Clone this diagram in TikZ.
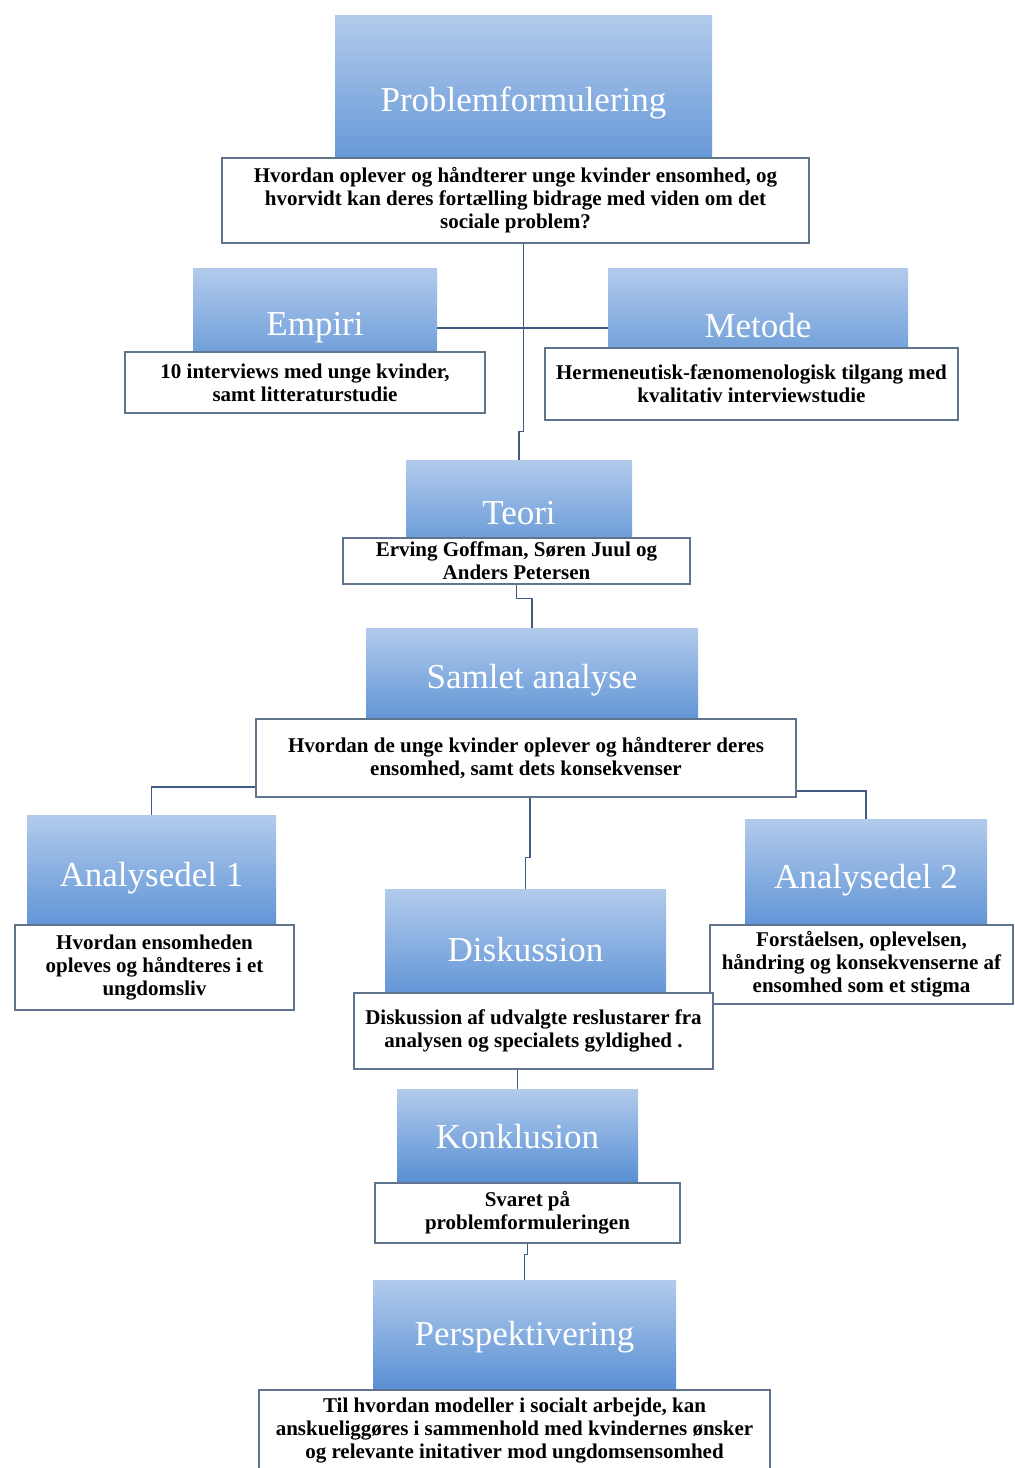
\documentclass[tikz,border=0pt]{standalone}
\usepackage{fontspec}
\setmainfont{Liberation Serif}
\usetikzlibrary{calc}
\definecolor{bluetop}{RGB}{178,203,236}
\definecolor{bluebot}{RGB}{86,141,211}
\definecolor{linec}{RGB}{62,92,130}
\definecolor{edgec}{RGB}{96,116,142}
\tikzset{
  bluebox/.style 2 args={rectangle, top color=bluetop, bottom color=bluebot,
    draw=none, text=white, inner sep=0pt,
    minimum width=#1*0.5pt, minimum height=#2*0.5pt,
    font=\fontsize{17.5}{20}\selectfont},
  textbox/.style 2 args={rectangle, fill=white, draw=edgec, line width=0.8pt,
    text=black, inner sep=0pt, align=center,
    minimum width=#1*0.5pt, minimum height=#2*0.5pt,
    font=\bfseries\fontsize{10.5}{11.5}\selectfont},
  conn/.style={draw=linec, line width=0.8pt}
}
\begin{document}
\begin{tikzpicture}[x=0.5pt,y=-0.5pt]
\useasboundingbox (0,0) rectangle (1014,1468);
\fill[white] (0,0) rectangle (1014,1468);

% Problemformulering
\node[bluebox={377}{176}] (pf) at (523.5,103) {Problemformulering};
\node[textbox={587}{85}] (pfT) at (515.5,200.5) {Hvordan oplever og håndterer unge kvinder ensomhed, og\\hvorvidt kan deres fortælling bidrage med viden om det\\sociale problem?};

% Empiri
\node[bluebox={244}{120}] (em) at (315,328) {\raisebox{3pt}{Empiri}};
\node[textbox={360}{61}] (emT) at (305,382.5) {10 interviews med unge kvinder,\\samt litteraturstudie};

% Metode
\node[bluebox={300}{120}] (me) at (758,328) {\raisebox{3pt}{Metode}};
\node[textbox={413}{72}] (meT) at (751.5,384) {Hermeneutisk-fænomenologisk tilgang med\\kvalitativ interviewstudie};

% Teori
\node[bluebox={226}{106}] (te) at (519,513) {Teori};
\node[textbox={347}{46}] (teT) at (516.5,561) {Erving Goffman, Søren Juul og\\Anders Petersen};

% Samlet analyse
\node[bluebox={332}{104}] (sa) at (532,680) {Samlet analyse};
\node[textbox={540}{78}] (saT) at (526,758) {Hvordan de unge kvinder oplever og håndterer deres\\ensomhed, samt dets konsekvenser};

% Analysedel 1
\node[bluebox={249}{126}] (a1) at (151.5,878) {Analysedel 1};
\node[textbox={279}{85}] (a1T) at (154.5,967.5) {Hvordan ensomheden\\opleves og håndteres i et\\ungdomsliv};

% Analysedel 2
\node[bluebox={242}{122}] (a2) at (866,880) {Analysedel 2};
\node[textbox={303}{79}] (a2T) at (861.5,964.5) {Forståelsen, oplevelsen,\\håndring og konsekvenserne af\\ensomhed som et stigma};

% Diskussion
\node[bluebox={281}{122}] (di) at (525.5,950) {Diskussion};
\node[textbox={359}{76}] (diT) at (533.5,1031) {Diskussion af udvalgte reslustarer fra\\analysen og specialets gyldighed .};

% Konklusion
\node[bluebox={241}{96}] (ko) at (517.5,1137) {Konklusion};
\node[textbox={305}{60}] (koT) at (527.5,1213) {Svaret på\\problemformuleringen};

% Perspektivering
\node[bluebox={303}{114}] (pe) at (524.5,1337) {Perspektivering};
\node[textbox={511}{82}] (peT) at (514.5,1431) {Til hvordan modeller i socialt arbejde, kan\\anskueliggøres i sammenhold med kvindernes ønsker\\og relevante initativer mod ungdomsensomhed};

% connectors
\draw[conn] (pf |- pfT.south) |- ($(te.north)+(0,-28)$) -- (te.north);
\draw[conn] (em.east) -- (me.west);
\draw[conn] (teT.south) |- ($(sa.north)+(0,-29)$) -- (sa.north);
\draw[conn] ($(saT.south west)+(0,-11)$) -| (a1.north);
\draw[conn] ($(saT.south east)+(0,-7)$) -| (a2.north);
\draw[conn] ($(saT.south)+(4,0)$) |- ($(di.north)+(0,-31)$) -- (di.north);
\draw[conn] (ko |- diT.south) -- (ko.north);
\draw[conn] (koT.south) |- ($(pe.north)+(0,-25)$) -- (pe.north);
\end{tikzpicture}
\end{document}
